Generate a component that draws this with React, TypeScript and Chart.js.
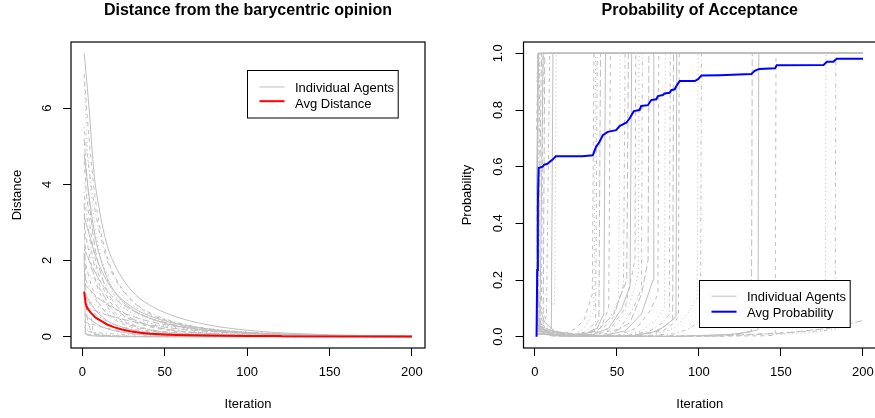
import React, { useEffect, useRef } from "react";
import { Chart, registerables } from "chart.js";

Chart.register(...registerables);

const FONT = "'Liberation Sans', Arial, sans-serif";
const GRAY = "#BEBEBE";

// ---------- Left panel data ----------
const ITER_D = [1, 2, 4, 7, 10, 15, 20, 30, 40, 55, 75, 100, 130, 170, 200];

const DIST_AGENTS: number[][] = [
  [7.44, 7.0, 6.0, 4.3, 3.4, 2.4, 1.85, 1.2, 0.85, 0.55, 0.32, 0.17, 0.08, 0.03, 0.01],
  [6.9, 6.3, 5.2, 3.9, 3.0, 2.1, 1.55, 0.95, 0.62, 0.38, 0.2, 0.1, 0.05, 0.02, 0.01],
  [6.8, 5.8, 4.4, 3.1, 2.3, 1.5, 1.05, 0.6, 0.38, 0.22, 0.11, 0.05, 0.02, 0.01, 0],
  [5.5, 5.1, 4.4, 3.5, 2.8, 2.0, 1.5, 0.95, 0.65, 0.4, 0.22, 0.12, 0.06, 0.02, 0.01],
  [5.2, 4.6, 3.6, 2.5, 1.85, 1.2, 0.85, 0.48, 0.3, 0.17, 0.09, 0.04, 0.02, 0.005, 0],
  [4.8, 4.4, 3.7, 2.8, 2.2, 1.55, 1.15, 0.72, 0.5, 0.3, 0.17, 0.09, 0.04, 0.015, 0.005],
  [4.6, 4.0, 3.1, 2.2, 1.6, 1.05, 0.75, 0.42, 0.27, 0.15, 0.08, 0.04, 0.02, 0.01, 0],
  [4.05, 3.8, 3.3, 2.7, 2.2, 1.65, 1.3, 0.85, 0.6, 0.38, 0.22, 0.12, 0.06, 0.02, 0.01],
  [3.8, 3.4, 2.7, 1.9, 1.4, 0.9, 0.62, 0.33, 0.2, 0.1, 0.05, 0.02, 0.01, 0, 0],
  [3.5, 1.2, 0.3, 0.1, 0.05, 0.03, 0.02, 0.01, 0.005, 0, 0, 0, 0, 0, 0],
  [3.2, 3.0, 2.7, 2.25, 1.9, 1.45, 1.15, 0.78, 0.56, 0.36, 0.21, 0.11, 0.05, 0.02, 0.01],
  [3.0, 2.7, 2.2, 1.6, 1.2, 0.8, 0.55, 0.3, 0.18, 0.1, 0.05, 0.02, 0.01, 0, 0],
  [2.7, 2.55, 2.3, 1.95, 1.65, 1.3, 1.05, 0.72, 0.52, 0.34, 0.2, 0.11, 0.05, 0.02, 0.01],
  [2.5, 2.3, 2.0, 1.6, 1.3, 0.95, 0.72, 0.45, 0.3, 0.17, 0.09, 0.045, 0.02, 0.005, 0.002],
  [2.3, 2.2, 2.0, 1.75, 1.5, 1.2, 0.98, 0.7, 0.5, 0.32, 0.19, 0.1, 0.05, 0.02, 0.01],
  [2.2, 0.1, 0.03, 0.02, 0.01, 0.01, 0, 0, 0, 0, 0, 0, 0, 0, 0],
  [2.1, 1.9, 1.55, 1.15, 0.88, 0.6, 0.43, 0.25, 0.16, 0.09, 0.05, 0.02, 0.01, 0, 0],
  [1.9, 1.8, 1.65, 1.45, 1.28, 1.05, 0.88, 0.64, 0.47, 0.31, 0.18, 0.1, 0.05, 0.02, 0.01],
  [1.6, 1.5, 1.3, 1.05, 0.85, 0.62, 0.47, 0.29, 0.19, 0.11, 0.06, 0.03, 0.01, 0, 0],
  [1.4, 1.35, 1.25, 1.12, 1.0, 0.84, 0.72, 0.54, 0.41, 0.28, 0.17, 0.09, 0.04, 0.015, 0.005],
  [1.2, 1.1, 0.95, 0.75, 0.6, 0.42, 0.31, 0.18, 0.11, 0.06, 0.03, 0.01, 0, 0, 0],
  [1.05, 1.0, 0.95, 0.06, 0.03, 0.01, 0, 0, 0, 0, 0, 0, 0, 0, 0],
  [1.0, 0.97, 0.92, 0.85, 0.78, 0.68, 0.6, 0.46, 0.36, 0.25, 0.15, 0.08, 0.04, 0.015, 0.005],
  [0.9, 0.85, 0.75, 0.62, 0.52, 0.4, 0.31, 0.2, 0.13, 0.07, 0.04, 0.02, 0.01, 0, 0],
  [0.8, 0.78, 0.74, 0.69, 0.64, 0.57, 0.51, 0.4, 0.32, 0.22, 0.14, 0.08, 0.04, 0.015, 0.005],
  [0.6, 0.55, 0.48, 0.38, 0.3, 0.21, 0.15, 0.08, 0.05, 0.02, 0.01, 0, 0, 0, 0],
  [0.4, 0.38, 0.35, 0.31, 0.27, 0.22, 0.18, 0.12, 0.08, 0.05, 0.03, 0.015, 0.007, 0.003, 0.001],
  [0.25, 0.2, 0.15, 0.1, 0.07, 0.04, 0.03, 0.01, 0, 0, 0, 0, 0, 0, 0],
  [0.15, 0.14, 0.13, 0.11, 0.1, 0.08, 0.07, 0.05, 0.035, 0.02, 0.01, 0.005, 0, 0, 0],
  [0.08, 0.07, 0.06, 0.05, 0.04, 0.03, 0.02, 0.01, 0, 0, 0, 0, 0, 0, 0],
];

const AVG_DIST_X = [1, 2, 3, 5, 8, 11, 15, 19, 24, 29, 35, 41, 50, 57, 75, 100, 120, 121, 200];
const AVG_DIST_Y = [1.18, 0.86, 0.74, 0.63, 0.5, 0.42, 0.32, 0.25, 0.19, 0.14, 0.1, 0.075, 0.055, 0.045, 0.03, 0.02, 0.015, 0.008, 0.004];

// ---------- Right panel data ----------
const PROB_AGENTS: number[][][] = [
  [[1, 0], [2, 1], [200, 1]],
  [[1, 0.02], [2, 1], [200, 1]],
  [[1, 0.05], [3, 1], [200, 1]],
  [[1, 0.12], [2, 1], [200, 1]],
  [[1, 0.3], [2, 1], [200, 1]],
  [[1, 0.5], [2, 1], [200, 1]],
  [[1, 0.73], [2, 1], [200, 1]],
  [[1, 0.9], [2, 1], [200, 1]],
  [[1, 0.15], [2, 0.06], [3, 1], [200, 1]],
  [[1, 0.2], [2, 0.1], [4, 1], [200, 1]],
  [[1, 0.08], [2, 0.03], [3, 0.02], [5, 1], [200, 1]],
  [[1, 0.25], [2, 0.17], [4, 0.12], [5, 1], [200, 1]],
  [[1, 0.3], [3, 0.2], [5, 0.16], [8, 0.13], [12, 0.11], [13, 1], [200, 1]],
  [[1, 0.2], [3, 0.12], [5, 0.08], [7, 0.06], [9, 1], [200, 1]],
  [[1, 0.1], [3, 0.05], [5, 0.04], [6, 1], [200, 1]],
  [[1, 0.18], [3, 0.1], [6, 0.05], [10, 0.03], [11, 1], [200, 1]],
  [[1, 0.15], [3, 0.08], [6, 0.03], [10, 0.015], [15, 0.01], [20, 0.015], [25, 0.03], [30, 0.06], [35, 0.15], [36, 1], [200, 1]],
  [[1, 0.12], [4, 0.04], [8, 0.015], [15, 0.005], [25, 0.01], [30, 0.03], [36, 0.09], [37, 1], [200, 1]],
  [[1, 0.08], [4, 0.02], [10, 0.005], [20, 0.005], [30, 0.015], [37, 0.05], [38, 1], [200, 1]],
  [[1, 0.1], [5, 0.02], [12, 0.005], [25, 0.005], [35, 0.02], [39, 0.06], [40, 1], [200, 1]],
  [[1, 0.05], [5, 0.01], [15, 0.003], [30, 0.008], [38, 0.03], [42, 0.08], [43, 1], [200, 1]],
  [[1, 0.02], [10, 0.002], [30, 0.005], [40, 0.03], [45, 0.1], [46, 1], [200, 1]],
  [[1, 0.03], [10, 0.003], [25, 0.004], [35, 0.015], [45, 0.06], [51, 0.13], [52, 1], [200, 1]],
  [[1, 0.02], [15, 0.002], [30, 0.005], [40, 0.02], [48, 0.07], [54, 0.18], [55, 1], [200, 1]],
  [[1, 0.06], [8, 0.006], [25, 0.004], [38, 0.02], [48, 0.08], [56, 0.2], [57, 1], [200, 1]],
  [[1, 0.01], [20, 0.001], [35, 0.006], [45, 0.03], [53, 0.1], [58, 0.18], [59, 1], [200, 1]],
  [[1, 0.03], [15, 0.002], [35, 0.005], [45, 0.02], [55, 0.1], [61, 0.27], [61.5, 1], [200, 1]],
  [[1, 0.02], [20, 0.002], [38, 0.006], [50, 0.04], [58, 0.12], [63, 0.22], [63.5, 1], [200, 1]],
  [[1, 0.04], [12, 0.003], [40, 0.004], [52, 0.03], [60, 0.1], [65, 0.17], [65.5, 1], [200, 1]],
  [[1, 0.02], [20, 0.001], [45, 0.005], [58, 0.05], [65, 0.15], [69, 0.27], [69.5, 1], [200, 1]],
  [[1, 0.05], [10, 0.004], [40, 0.002], [55, 0.02], [65, 0.08], [72, 0.2], [72.5, 1], [200, 1]],
  [[1, 0.01], [25, 0.001], [50, 0.004], [62, 0.03], [70, 0.09], [75, 0.15], [75.5, 1], [200, 1]],
  [[1, 0.03], [20, 0.002], [50, 0.003], [65, 0.02], [74, 0.06], [79, 0.1], [79.5, 1], [200, 1]],
  [[1, 0.02], [30, 0.001], [55, 0.003], [70, 0.02], [78, 0.05], [82, 0.08], [82.5, 1], [200, 1]],
  [[1, 0.04], [20, 0.003], [55, 0.002], [72, 0.015], [80, 0.04], [84, 0.06], [84.5, 1], [200, 1]],
  [[1, 0.01], [30, 0.001], [60, 0.003], [75, 0.02], [82, 0.05], [86, 0.07], [86.5, 1], [200, 1]],
  [[1, 0.03], [25, 0.002], [60, 0.003], [78, 0.02], [85, 0.05], [87.5, 0.07], [88, 1], [200, 1]],
  [[1, 0.02], [30, 0.001], [70, 0.003], [85, 0.03], [93, 0.08], [99, 0.14], [99.5, 1], [200, 1]],
  [[1, 0.04], [20, 0.003], [60, 0.001], [85, 0.01], [95, 0.03], [101, 0.06], [101.5, 1], [200, 1]],
  [[1, 0.01], [40, 0.001], [90, 0.002], [115, 0.006], [125, 0.012], [132, 0.02], [132.5, 1], [200, 1]],
  [[1, 0.03], [30, 0.002], [90, 0.001], [120, 0.008], [130, 0.015], [136, 0.025], [136.5, 1], [200, 1]],
  [[1, 0.02], [40, 0.001], [100, 0.001], [140, 0.003], [146.5, 0.005], [147, 1], [200, 1]],
  [[1, 0.01], [50, 0.001], [110, 0.002], [150, 0.008], [170, 0.015], [177, 0.02], [177.5, 1], [200, 1]],
  [[1, 0.05], [20, 0.004], [80, 0.002], [130, 0.008], [160, 0.016], [176, 0.022], [183, 0.026], [183.5, 1], [200, 1]],
  [[1, 0.02], [50, 0.001], [110, 0.002], [150, 0.012], [180, 0.03], [200, 0.057]],
];

const AVG_PROB_X = [1, 1.4, 1.8, 2.3, 4.7, 5.7, 7.7, 9, 10.8, 12.8, 29, 35.3, 37.3, 39.3, 41.4, 44.4, 49.5, 51.6, 55.7, 57.7, 60.3, 63.8, 64.8, 68.9, 70.9, 74, 75, 78, 79, 82.2, 83.1, 85.2, 86.6, 88.3, 97.5, 99.5, 101.5, 112.7, 132, 134, 136.8, 146.4, 147.4, 176, 178, 182, 184, 200];
const AVG_PROB_Y = [0, 0.235, 0.47, 0.595, 0.6, 0.607, 0.61, 0.617, 0.625, 0.637, 0.637, 0.64, 0.67, 0.687, 0.711, 0.723, 0.729, 0.743, 0.755, 0.77, 0.796, 0.8, 0.814, 0.817, 0.835, 0.838, 0.849, 0.853, 0.858, 0.861, 0.87, 0.873, 0.888, 0.902, 0.902, 0.909, 0.922, 0.923, 0.927, 0.938, 0.945, 0.947, 0.958, 0.959, 0.97, 0.97, 0.981, 0.981];

const X_TICKS = [0, 50, 100, 150, 200];
const DIST_TICKS = [0, 2, 4, 6];
const PROB_TICKS = [0, 0.2, 0.4, 0.6, 0.8, 1.0];

const DASHES: number[][] = [[], [4, 4], [1, 3], [1, 3, 4, 3], [7, 3]];

// ---------- plugin: R-like box + legend ----------
const rFrame = {
  id: "rFrame",
  afterDatasetsDraw(chart: any, _args: any, opts: any) {
    const { ctx, chartArea: a } = chart;
    ctx.save();
    ctx.strokeStyle = "#000";
    ctx.lineWidth = 1.2;
    ctx.strokeRect(a.left, a.top, a.right - a.left, a.bottom - a.top);
    const L = opts.legend;
    if (L) {
      const bx = Math.round(a.right - L.right - L.w) + 0.5;
      const by = Math.round(L.top != null ? a.top + L.top : a.bottom - L.bottom - L.h) + 0.5;
      ctx.fillStyle = "#fff";
      ctx.fillRect(bx, by, L.w, L.h);
      ctx.lineWidth = 1;
      ctx.strokeStyle = "#000";
      ctx.strokeRect(bx, by, L.w, L.h);
      L.items.forEach((it: any, i: number) => {
        const ly = by + L.lineY[i];
        ctx.beginPath();
        ctx.strokeStyle = it.color;
        ctx.lineWidth = it.width;
        ctx.moveTo(bx + 12, ly);
        ctx.lineTo(bx + 37, ly);
        ctx.stroke();
        ctx.fillStyle = "#000";
        ctx.font = `13px ${FONT}`;
        ctx.textBaseline = "middle";
        ctx.textAlign = "left";
        ctx.fillText(it.label, bx + 47.5, by + L.textY[i]);
      });
    }
    ctx.restore();
  },
};

function makeConfig(p: {
  datasets: any[];
  yMin: number;
  yMax: number;
  yTicks: number[];
  yFmt: (v: number) => string;
  title: string;
  yTitle: string;
  yWidth: number;
  yTickPad: number;
  yTitlePad: number;
  padRight: number;
  legend: any;
}) {
  return {
    type: "line" as const,
    data: { datasets: p.datasets },
    plugins: [rFrame],
    options: {
      responsive: false,
      animation: false as const,
      devicePixelRatio: 1,
      events: [],
      layout: { padding: { left: 0, right: p.padRight, top: 0, bottom: 0 } },
      plugins: {
        legend: { display: false },
        tooltip: { enabled: false },
        title: { display: false },
        rFrame: { legend: p.legend },
      },
      scales: {
        x: {
          type: "linear",
          position: "bottom",
          min: -6.96,
          max: 207.96,
          afterBuildTicks: (s: any) => {
            s.ticks = X_TICKS.map((v) => ({ value: v }));
          },
          afterFit: (s: any) => {
            s.height = 70;
            s.paddingLeft = 0;
            s.paddingRight = 0;
          },
          ticks: {
            autoSkip: false,
            minRotation: 0,
            maxRotation: 0,
            padding: 9,
            color: "#000",
            font: { family: FONT, size: 13 },
            callback: (v: any) => String(v),
          },
          grid: { display: true, drawOnChartArea: false, drawTicks: true, tickLength: 8, color: "#000", lineWidth: 1 },
          border: { display: false },
          title: {
            display: true,
            text: "Iteration",
            color: "#000",
            font: { family: FONT, size: 13 },
            padding: { top: 0, bottom: 6.2 },
          },
        },
        xTop: {
          type: "linear",
          position: "top",
          display: true,
          ticks: { display: false },
          grid: { display: false },
          border: { display: false },
          afterFit: (s: any) => {
            s.height = 42;
            s.paddingLeft = 0;
            s.paddingRight = 0;
          },
          title: {
            display: true,
            text: p.title,
            color: "#000",
            font: { family: FONT, size: 16, weight: "bold" },
            padding: { top: 1, bottom: 0 },
          },
        },
        y: {
          type: "linear",
          position: "left",
          min: p.yMin,
          max: p.yMax,
          afterBuildTicks: (s: any) => {
            s.ticks = p.yTicks.map((v) => ({ value: v }));
          },
          afterFit: (s: any) => {
            s.width = p.yWidth;
            s.paddingTop = 0;
            s.paddingBottom = 0;
          },
          ticks: {
            autoSkip: false,
            minRotation: 90,
            maxRotation: 90,
            crossAlign: "center",
            padding: p.yTickPad,
            color: "#000",
            font: { family: FONT, size: 13 },
            callback: (v: any) => p.yFmt(Number(v)),
          },
          grid: { display: true, drawOnChartArea: false, drawTicks: true, tickLength: 8, color: "#000", lineWidth: 1 },
          border: { display: false },
          title: {
            display: true,
            text: p.yTitle,
            color: "#000",
            font: { family: FONT, size: 13 },
            padding: { top: p.yTitlePad, bottom: 0 },
          },
        },
      },
    },
  };
}

export default function App() {
  const leftRef = useRef<HTMLCanvasElement | null>(null);
  const rightRef = useRef<HTMLCanvasElement | null>(null);

  useEffect(() => {
    const distSets: any[] = [
      {
        label: "Avg Distance",
        data: AVG_DIST_X.map((x, j) => ({ x, y: AVG_DIST_Y[j] })),
        borderColor: "#FF0000",
        borderWidth: 2,
        pointRadius: 0,
        tension: 0,
        fill: false,
        order: 0,
      },
      ...DIST_AGENTS.map((vals, i) => ({
        label: "Agent " + (i + 1),
        data: ITER_D.map((x, j) => ({ x, y: vals[j] })),
        borderColor: GRAY,
        borderWidth: 1,
        borderDash: DASHES[i % 5],
        pointRadius: 0,
        cubicInterpolationMode: "monotone",
        fill: false,
        order: 1,
      })),
    ];

    const probSets: any[] = [
      {
        label: "Avg Probability",
        data: AVG_PROB_X.map((x, j) => ({ x, y: AVG_PROB_Y[j] })),
        borderColor: "#0000FF",
        borderWidth: 2,
        pointRadius: 0,
        tension: 0,
        fill: false,
        order: 0,
      },
      ...PROB_AGENTS.map((pts, i) => ({
        label: "Agent " + (i + 1),
        data: pts.map(([x, y]) => ({ x, y })),
        borderColor: GRAY,
        borderWidth: 1,
        borderDash: DASHES[i % 5],
        pointRadius: 0,
        tension: 0,
        fill: false,
        order: 1,
      })),
    ];

    const left = new Chart(
      leftRef.current as HTMLCanvasElement,
      makeConfig({
        datasets: distSets,
        yMin: -0.2976,
        yMax: 7.7376,
        yTicks: DIST_TICKS,
        yFmt: (v) => String(v),
        title: "Distance from the barycentric opinion",
        yTitle: "Distance",
        yWidth: 71,
        yTickPad: 11.6,
        yTitlePad: 10,
        padRight: 13,
        legend: {
          w: 150.7,
          h: 47.5,
          right: 27.7,
          top: 28,
          lineY: [16.5, 30.7],
          textY: [17.8, 33.5],
          items: [
            { label: "Individual Agents", color: GRAY, width: 1 },
            { label: "Avg Distance", color: "#FF0000", width: 2 },
          ],
        },
      }) as any
    );

    const right = new Chart(
      rightRef.current as HTMLCanvasElement,
      makeConfig({
        datasets: probSets,
        yMin: -0.04,
        yMax: 1.04,
        yTicks: PROB_TICKS,
        yFmt: (v) => v.toFixed(1),
        title: "Probability of Acceptance",
        yTitle: "Probability",
        yWidth: 85.5,
        yTickPad: 7.6,
        yTitlePad: 21.7,
        padRight: 2,
        legend: {
          w: 150.7,
          h: 47,
          right: 26.7,
          bottom: 21,
          lineY: [15.7, 31.2],
          textY: [17, 32.5],
          items: [
            { label: "Individual Agents", color: GRAY, width: 1 },
            { label: "Avg Probability", color: "#0000FF", width: 2 },
          ],
        },
      }) as any
    );

    return () => {
      left.destroy();
      right.destroy();
    };
  }, []);

  return (
    <div
      style={{
        position: "fixed",
        left: 0,
        top: 0,
        width: 875,
        height: 418,
        overflow: "hidden",
        background: "#fff",
      }}
    >
      <canvas ref={leftRef} width={438} height={418} style={{ position: "absolute", left: 0, top: 0 }} />
      <canvas ref={rightRef} width={440} height={418} style={{ position: "absolute", left: 438, top: 0 }} />
    </div>
  );
}
